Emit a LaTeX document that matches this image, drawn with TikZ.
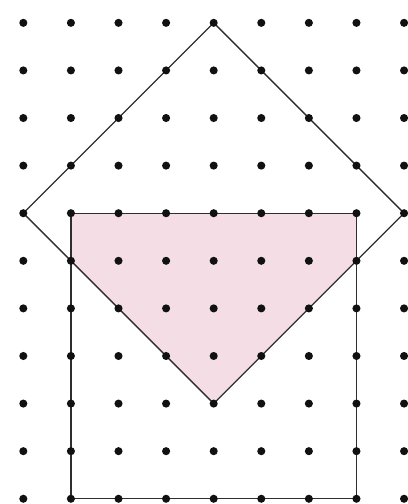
\documentclass[tikz,border=0pt]{standalone}
\usepackage{tikz}
\definecolor{penline}{HTML}{2E2E2E}
\definecolor{pinkfill}{HTML}{F5DDE5}
\definecolor{dotcol}{HTML}{111111}
\tikzset{
  griddot/.style={fill=dotcol},
  outline/.style={draw=penline,line width=0.8pt,line join=miter},
  shaded/.style={fill=pinkfill},
}

\begin{document}
\begin{tikzpicture}
  \useasboundingbox (-0.49,-0.11) rectangle (8.08,10.48);
  % corners of the two squares
  \coordinate (dtop) at (4,10);
  \coordinate (dleft) at (0,6);
  \coordinate (dright) at (8,6);
  \coordinate (dbot) at (4,2);
  \coordinate (sq1) at (1,6);
  \coordinate (sq2) at (7,6);
  \coordinate (sq3) at (7,0);
  \coordinate (sq4) at (1,0);
  \coordinate (cutl) at (1,5);
  \coordinate (cutr) at (7,5);
  \fill[shaded](sq1)--(sq2)--(cutr)--(dbot)--(cutl)--cycle;
  \draw[outline](dtop)--(dright)--(dbot)--(dleft)--cycle;
  \draw[outline](sq1)--(sq2)--(sq3)--(sq4)--cycle;
  \foreach \i in {0,...,8}{
    \foreach \j in {0,...,10}{
      \fill[griddot](\i,\j) circle (0.085);
    }
  }
\end{tikzpicture}
\end{document}
